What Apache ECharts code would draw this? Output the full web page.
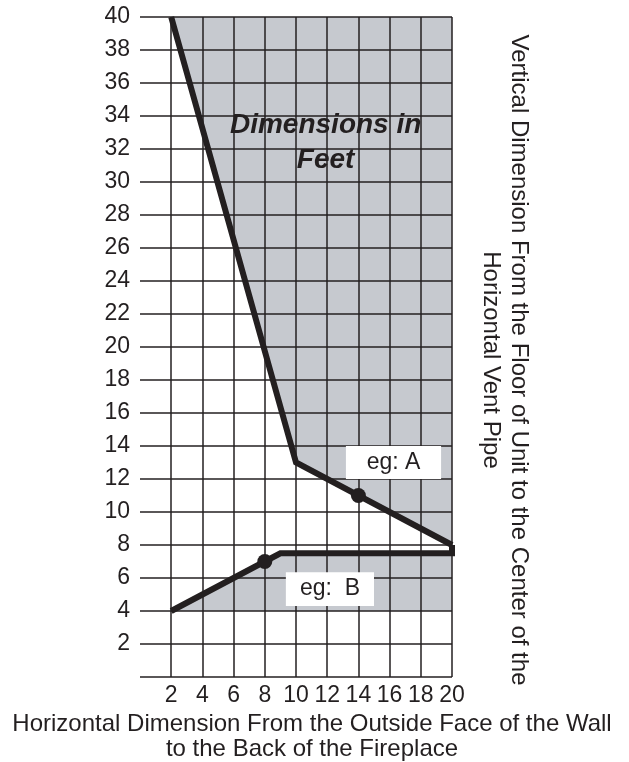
<!DOCTYPE html>
<html>
<head>
<meta charset="utf-8">
<script src="https://cdn.jsdelivr.net/npm/echarts@6/dist/echarts.min.js"></script>
<style>
html,body{margin:0;padding:0;background:#fff;}
#c{width:629px;height:762px;}
</style>
</head>
<body>
<div id="c"></div>
<script>
// ---- data ----
const xTicks = [2, 4, 6, 8, 10, 12, 14, 16, 18, 20];
const yTicks = [2, 4, 6, 8, 10, 12, 14, 16, 18, 20, 22, 24, 26, 28, 30, 32, 34, 36, 38, 40];
const lineA = [[2, 40], [10, 13], [20, 8]];
const lineB = [[2, 4], [8, 7], [9, 7.5], [20, 7.5], [20, 8]];
const dotsA = [[14, 11]];
const dotsB = [[8, 7]];
const shadeUpper = [[2, 40], [10, 13], [20, 8], [20, 40]];
const shadeLower = [[2, 4], [8, 7], [9, 7.5], [20, 7.5], [20, 4]];
const labelNames = ['eg: A', 'eg:  B'];
const labelBoxes = [[13.2, 14, 19.3, 12], [9.35, 6.35, 15, 4.3]];
const noteAnchor = [11.9, 32.4];
const xTitle = 'Horizontal Dimension From the Outside Face of the Wall\nto the Back of the Fireplace';
const yTitle = 'Vertical Dimension From the Floor of Unit to the Center of the\nHorizontal Vent Pipe';
const noteText = 'Dimensions in\nFeet';

// ---- styles ----
const INK = '#231f20';
const GRAY = '#c6c9cf';
const FONT = 'Liberation Sans, Arial, Helvetica, sans-serif';

const chart = echarts.init(document.getElementById('c'), null, {renderer: 'canvas'});

function polygonSeries(points) {
  return {
    type: 'custom',
    z: 1,
    silent: true,
    data: [0],
    renderItem: function (params, api) {
      return {
        type: 'polygon',
        shape: {points: points.map(p => api.coord(p))},
        style: {fill: GRAY}
      };
    }
  };
}

const xSplitColors = [0].concat(xTicks).map(v => v === 0 ? 'rgba(0,0,0,0)' : INK);

chart.setOption({
  animation: false,
  backgroundColor: '#fff',
  grid: {left: 140, right: 177, top: 17, bottom: 85, containLabel: false},
  xAxis: {
    type: 'value', min: 0, max: 20, interval: 2, z: 2,
    axisLine: {show: false}, axisTick: {show: false},
    axisLabel: {
      margin: 7, fontSize: 23, color: INK, fontFamily: FONT,
      formatter: v => xTicks.indexOf(v) >= 0 ? String(v) : ''
    },
    splitLine: {show: true, lineStyle: {color: xSplitColors, width: 1.5}}
  },
  yAxis: {
    type: 'value', min: 0, max: 40, interval: 2, z: 2,
    axisLine: {show: false}, axisTick: {show: false},
    axisLabel: {
      margin: 10, fontSize: 23, color: INK, fontFamily: FONT,
      formatter: v => yTicks.indexOf(v) >= 0 ? String(v) : ''
    },
    splitLine: {show: true, lineStyle: {color: INK, width: 1.5}}
  },
  graphic: [
    {
      type: 'text', x: 312, y: 737, silent: true,
      style: {text: xTitle, fontSize: 24, lineHeight: 25, fill: INK, fontFamily: FONT,
        align: 'center', verticalAlign: 'middle'}
    },
    {
      type: 'text', x: 505, y: 360, rotation: -Math.PI / 2, silent: true,
      style: {text: yTitle, fontSize: 24, lineHeight: 28, fill: INK, fontFamily: FONT,
        align: 'center', verticalAlign: 'middle'}
    }
  ],
  series: [
    polygonSeries(shadeUpper),
    polygonSeries(shadeLower),
    {
      type: 'custom', z: 4, silent: true,
      data: labelBoxes.map((b, i) => b.concat([i])),
      renderItem: function (params, api) {
        const p1 = api.coord([api.value(0), api.value(1)]);
        const p2 = api.coord([api.value(2), api.value(3)]);
        const name = labelNames[api.value(4)];
        return {
          type: 'group',
          children: [
            {type: 'rect', shape: {x: p1[0], y: p1[1], width: p2[0] - p1[0], height: p2[1] - p1[1]},
              style: {fill: '#ffffff'}},
            {type: 'text', x: (p1[0] + p2[0]) / 2, y: (p1[1] + p2[1]) / 2,
              style: {text: name, fontSize: 23, fill: INK, fontFamily: FONT,
                align: 'center', verticalAlign: 'middle'}}
          ]
        };
      }
    },
    {
      type: 'line', z: 5, data: lineA, symbol: 'none', silent: true,
      lineStyle: {color: INK, width: 6, join: 'miter', cap: 'butt'}
    },
    {
      type: 'line', z: 5, data: lineB, symbol: 'none', silent: true,
      lineStyle: {color: INK, width: 6, join: 'miter', cap: 'butt'}
    },
    {
      type: 'scatter', z: 6, data: dotsA.concat(dotsB), symbol: 'circle', symbolSize: 15,
      itemStyle: {color: INK, opacity: 1}, silent: true
    },
    {
      type: 'scatter', z: 6, silent: true, symbolSize: 0,
      itemStyle: {opacity: 1},
      data: [noteAnchor],
      label: {
        show: true, position: 'inside', formatter: noteText,
        fontSize: 28, fontWeight: 'bold', fontStyle: 'italic', lineHeight: 35,
        color: INK, fontFamily: FONT, align: 'center', verticalAlign: 'middle'
      }
    }
  ]
});
</script>
</body>
</html>
